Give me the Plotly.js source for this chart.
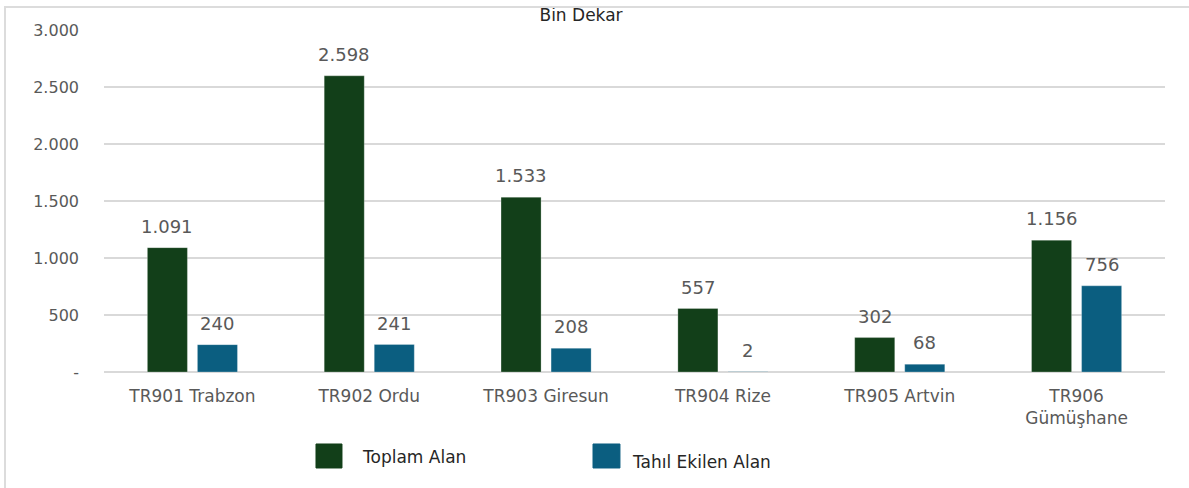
<!DOCTYPE html>
<html>
<head>
<meta charset="utf-8">
<script src="https://cdn.plot.ly/plotly-3.0.1.min.js"></script>
<style>
  html, body { margin: 0; padding: 0; background: #ffffff; }
  #wrap { position: relative; width: 1189px; height: 488px; }
  #chart { width: 1189px; height: 488px; }
  #frame { position: absolute; left: 4px; top: 6px; right: 0; bottom: 0;
           border-left: 2px solid #dcdcdc; border-top: 2px solid #dcdcdc; pointer-events: none; }
</style>
</head>
<body>
<div id="wrap">
  <div id="chart"></div>
  <div id="frame"></div>
</div>
<script>
// ---- data ----
const categories = ["TR901 Trabzon", "TR902 Ordu", "TR903 Giresun", "TR904 Rize", "TR905 Artvin", "TR906<br>Gümüşhane"];
const seriesNames = ["Toplam Alan", "Tahıl Ekilen Alan"];
const toplamAlan = [1091, 2598, 1533, 557, 302, 1156];
const tahilEkilenAlan = [240, 241, 208, 2, 68, 756];
const yTickVals = [0, 500, 1000, 1500, 2000, 2500, 3000];
const yTickText = ["-", "500", "1.000", "1.500", "2.000", "2.500", "3.000"];
const chartTitle = "Bin Dekar";

const colors = ["#123f19", "#0b5e80"];
const fontFam = "DejaVu Sans, Verdana, sans-serif";

function fmt(v) {
  return String(v).replace(/\B(?=(\d{3})+(?!\d))/g, ".");
}

const traces = [toplamAlan, tahilEkilenAlan].map((vals, i) => ({
  type: "bar",
  name: seriesNames[i],
  x: categories,
  y: vals,
  marker: { color: colors[i], line: { color: "rgba(255,255,255,0.25)", width: 1 } },
  hoverinfo: "skip"
}));

const annotations = [];
[toplamAlan, tahilEkilenAlan].forEach((vals, i) => {
  vals.forEach((v, j) => {
    annotations.push({
      x: categories[j], y: v, xref: "x", yref: "y",
      text: fmt(v), showarrow: false,
      xanchor: "center", yanchor: "bottom",
      xshift: i === 0 ? -25 : 25, yshift: 9,
      font: { family: fontFam, size: 18, color: "#595959" }
    });
  });
});

// custom legend
const legendPos = [
  { sq: [0.1998, 0.2243], tx: 0.2413, ty: -0.2485 },
  { sq: [0.4609, 0.4863], tx: 0.4958, ty: -0.2632 }
];
const shapes = [];
seriesNames.forEach((n, i) => {
  const p = legendPos[i];
  shapes.push({
    type: "rect", xref: "paper", yref: "paper",
    x0: p.sq[0], x1: p.sq[1], y0: -0.2807, y1: -0.2105,
    fillcolor: colors[i], line: { color: colors[i], width: 1 }
  });
  annotations.push({
    xref: "paper", yref: "paper", x: p.tx, y: p.ty,
    xanchor: "left", yanchor: "middle", showarrow: false,
    text: n, font: { family: fontFam, size: 17, color: "#262626" }
  });
});

const layout = {
  width: 1189, height: 488,
  margin: { l: 104, r: 24, t: 30, b: 116 },
  paper_bgcolor: "rgba(0,0,0,0)",
  plot_bgcolor: "#ffffff",
  barmode: "group",
  bargap: 0.434,
  bargroupgap: 0.2,
  showlegend: false,
  title: {
    text: chartTitle,
    x: 0.4496, xref: "paper", xanchor: "center",
    y: 1 - 15 / 488, yref: "container", yanchor: "middle",
    font: { family: fontFam, size: 17, color: "#262626" }
  },
  xaxis: {
    type: "category",
    showgrid: false, zeroline: false, showline: false,
    ticks: "",
    ticklabelstandoff: 12,
    tickfont: { family: fontFam, size: 17, color: "#595959" },
    automargin: false
  },
  yaxis: {
    range: [0, 3000],
    tickvals: yTickVals, ticktext: yTickText,
    showgrid: true, gridcolor: "#d9d9d9", gridwidth: 1.5,
    zeroline: true, zerolinecolor: "#d9d9d9", zerolinewidth: 1.5,
    showline: false, ticks: "",
    ticklabelstandoff: 24,
    tickfont: { family: fontFam, size: 16, color: "#595959" },
    automargin: false
  },
  annotations: annotations,
  shapes: shapes,
  font: { family: fontFam }
};

Plotly.newPlot("chart", traces, layout, { displayModeBar: false, staticPlot: true });
</script>
</body>
</html>
